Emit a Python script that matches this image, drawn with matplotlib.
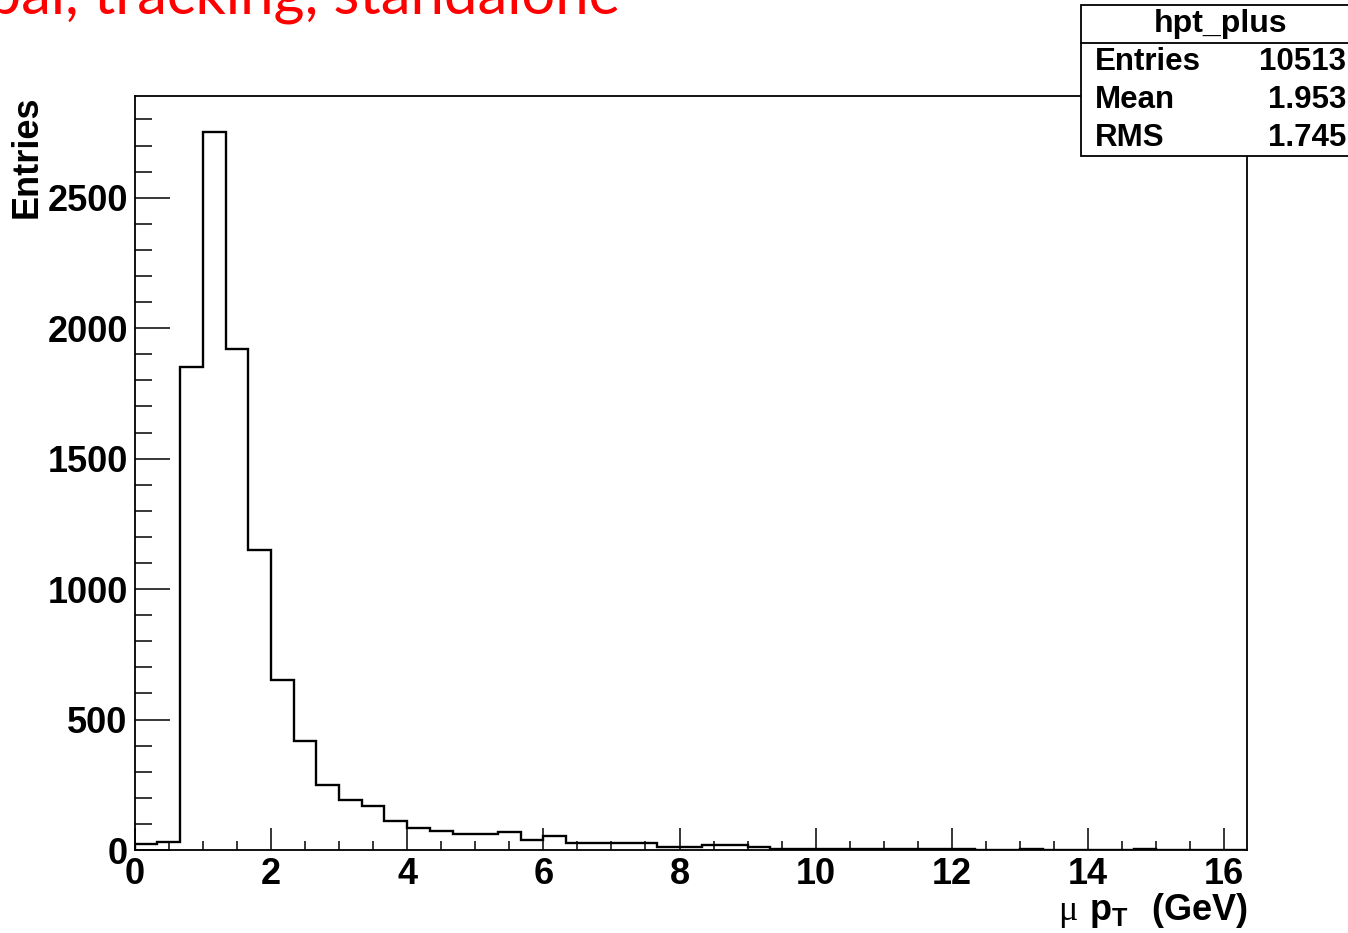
import numpy as np
import matplotlib
matplotlib.use("Agg")
import matplotlib.pyplot as plt
from matplotlib.patches import Rectangle
from matplotlib.lines import Line2D
from matplotlib.ticker import MultipleLocator

# ---- data ----
n_bins = 49
x_min, x_max = 0.0, 49 / 3
counts = [23, 30, 1850, 2753, 1919, 1151, 652, 418, 249, 192,
          169, 112, 83, 74, 61, 61, 68, 37, 52, 27,
          27, 27, 27, 10, 10, 19, 19, 10, 3, 3,
          3, 3, 3, 3, 3, 3, 3, 0, 0, 3,
          0, 0, 0, 0, 3, 0, 0, 0, 0]
hist_name = "hpt_plus"
stat_labels = ["Entries", "Mean", "RMS"]
stat_values = ["10513", "1.953", "1.745"]
x_title = r"$\mathrm{\mu}\ \mathbf{p}_{\mathbf{T}}\ \ \mathbf{(GeV)}$"
y_title = "Entries"
header = "Global, tracking, standalone"
y_max = 2890

plt.rcParams["font.family"] = ["Liberation Sans", "DejaVu Sans"]
plt.rcParams["mathtext.fontset"] = "custom"
plt.rcParams["mathtext.rm"] = "Liberation Serif"
plt.rcParams["mathtext.bf"] = "Liberation Sans:bold"

W, H = 1348, 933
fig = plt.figure(figsize=(W / 100, H / 100), dpi=100)
fig.patch.set_facecolor("white")

def fx(px):
    return px / W

def fy(py):
    return 1 - py / H

ax = fig.add_axes([fx(134.7), fy(850), fx(1247) - fx(134.7), fy(96) - fy(850)])
edges = np.linspace(x_min, x_max, n_bins + 1)
ax.stairs(counts, edges, color="black", linewidth=1.7, baseline=0)
ax.set_xlim(x_min, x_max)
ax.set_ylim(0, y_max)

for s in ax.spines.values():
    s.set_linewidth(1.3)

ax.xaxis.set_major_locator(MultipleLocator(2))
ax.xaxis.set_minor_locator(MultipleLocator(0.5))
ax.yaxis.set_major_locator(MultipleLocator(500))
ax.yaxis.set_minor_locator(MultipleLocator(100))
ax.tick_params(axis="x", which="major", direction="in", length=15.6, width=1.1, pad=5,
               labelsize=26, top=False)
ax.tick_params(axis="x", which="minor", direction="in", length=6.7, width=1.1, top=False)
ax.tick_params(axis="y", which="major", direction="in", length=25, width=1.1, pad=5,
               labelsize=26, right=False)
ax.tick_params(axis="y", which="minor", direction="in", length=12.5, width=1.1, right=False)
for lab in ax.get_xticklabels() + ax.get_yticklabels():
    lab.set_fontweight("bold")

# axis titles
fig.text(fx(27), fy(96), y_title, rotation=90, ha="center", va="top",
         fontsize=26, fontweight="bold")
fig.text(fx(1248), fy(920), x_title, ha="right", va="baseline", fontsize=26)

# header (partially cut at figure edge, as in the source image)
fig.text(fx(620), fy(13), header, ha="right", va="baseline", fontsize=43,
         color="#ff0000", family=["Lato", "DejaVu Sans"])

# stats box
box = Rectangle((fx(1081), fy(156)), fx(1360) - fx(1081), fy(5) - fy(156),
                transform=fig.transFigure, facecolor="white", edgecolor="black",
                linewidth=1.3, zorder=10)
fig.add_artist(box)
fig.add_artist(Line2D([fx(1081), fx(1360)], [fy(43), fy(43)], transform=fig.transFigure,
                      color="black", linewidth=1.3, zorder=11))
fig.text(fx(1221), fy(24), hist_name, ha="center", va="center", fontsize=23,
         fontweight="bold", zorder=12)
row_y = [62, 100, 138]
for lab, val, yy in zip(stat_labels, stat_values, row_y):
    fig.text(fx(1095), fy(yy), lab, ha="left", va="center", fontsize=22.5,
             fontweight="bold", zorder=12)
    fig.text(fx(1346), fy(yy), val, ha="right", va="center", fontsize=22.5,
             fontweight="bold", zorder=12)

fig.savefig("out.png", dpi=100)
